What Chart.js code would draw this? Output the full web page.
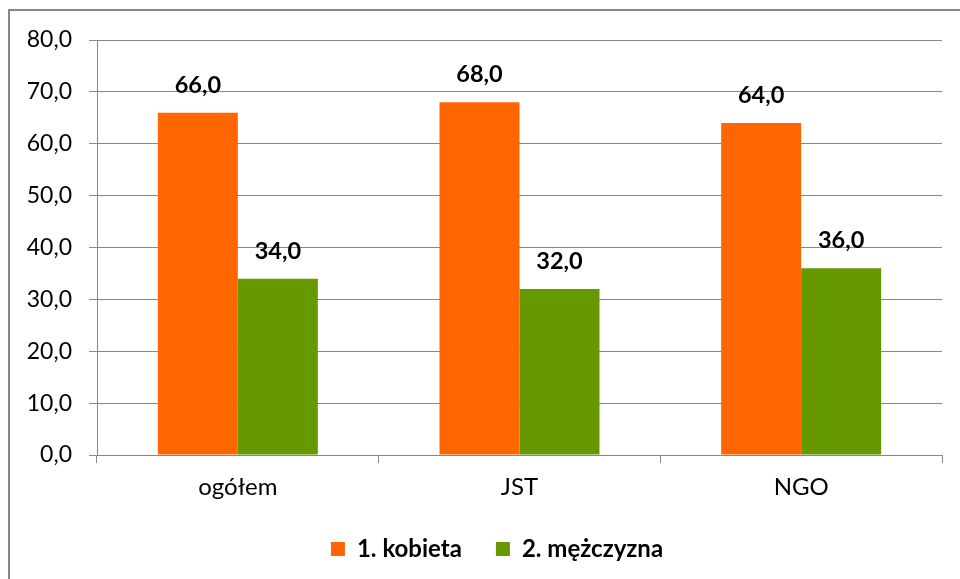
<!DOCTYPE html>
<html>
<head>
<meta charset="utf-8">
<script src="https://cdn.jsdelivr.net/npm/chart.js@4/dist/chart.umd.min.js"></script>
<style>
html,body{margin:0;padding:0;background:#fff;overflow:hidden;}
#wrap{position:relative;width:960px;height:579px;}
#frame{position:absolute;left:8px;top:9px;width:1000px;height:1000px;border:2px solid #878787;pointer-events:none;}
canvas{position:absolute;left:0;top:0;}
</style>
</head>
<body>
<div id="wrap">
<canvas id="c" width="960" height="579"></canvas>
<div id="frame"></div>
</div>
<script>
const categories = ['ogółem', 'JST', 'NGO'];
const seriesNames = ['1. kobieta', '2. mężczyzna'];
const kobieta = [66.0, 68.0, 64.0];
const mezczyzna = [34.0, 32.0, 36.0];
const seriesColors = ['#FF6600', '#669900'];

const fmt = v => Number(v).toFixed(1).replace('.', ',');

const valueLabels = {
  id: 'valueLabels',
  afterDatasetsDraw(chart) {
    const ctx = chart.ctx;
    ctx.save();
    ctx.font = 'bold 23.5px Lato';
    ctx.fillStyle = '#000';
    ctx.textAlign = 'center';
    ctx.textBaseline = 'alphabetic';
    chart.data.datasets.forEach((ds, i) => {
      chart.getDatasetMeta(i).data.forEach((bar, j) => {
        ctx.fillText(fmt(ds.data[j]), bar.x, bar.y - 20);
      });
    });
    ctx.restore();
  }
};

const legendShift = {
  id: 'legendShift',
  afterLayout(chart) {
    if (chart.legend) {
      chart.legend.left += 26;
      chart.legend.right += 26;
    }
  }
};

new Chart(document.getElementById('c'), {
  type: 'bar',
  data: {
    labels: categories,
    datasets: [
      { label: seriesNames[0], data: kobieta, backgroundColor: seriesColors[0] },
      { label: seriesNames[1], data: mezczyzna, backgroundColor: seriesColors[1] }
    ]
  },
  options: {
    responsive: false,
    animation: false,
    devicePixelRatio: 1,
    categoryPercentage: 0.568,
    barPercentage: 1.0,
    layout: { padding: { left: 0, right: 18, top: 40, bottom: 8 } },
    plugins: {
      tooltip: { enabled: false },
      legend: {
        position: 'bottom',
        labels: {
          color: '#000',
          font: { family: 'Lato', size: 24, weight: 'bold' },
          boxWidth: 14,
          boxHeight: 14,
          padding: 34
        }
      }
    },
    scales: {
      x: {
        grid: { display: true, drawOnChartArea: false, drawTicks: true, tickLength: 8, color: '#878787', offset: true },
        border: { display: true, color: '#878787' },
        ticks: { color: '#000', font: { family: 'Lato', size: 24 }, padding: 10 },
        afterFit(scale) { scale.height = 48; }
      },
      y: {
        min: 0, max: 80,
        ticks: { stepSize: 10, color: '#000', font: { family: 'Lato', size: 23 }, padding: 17, callback: v => fmt(v) },
        grid: { color: '#878787', tickLength: 8 },
        border: { display: true, color: '#878787' },
        afterFit(scale) { scale.width = 97; }
      }
    }
  },
  plugins: [valueLabels, legendShift]
});
</script>
</body>
</html>
